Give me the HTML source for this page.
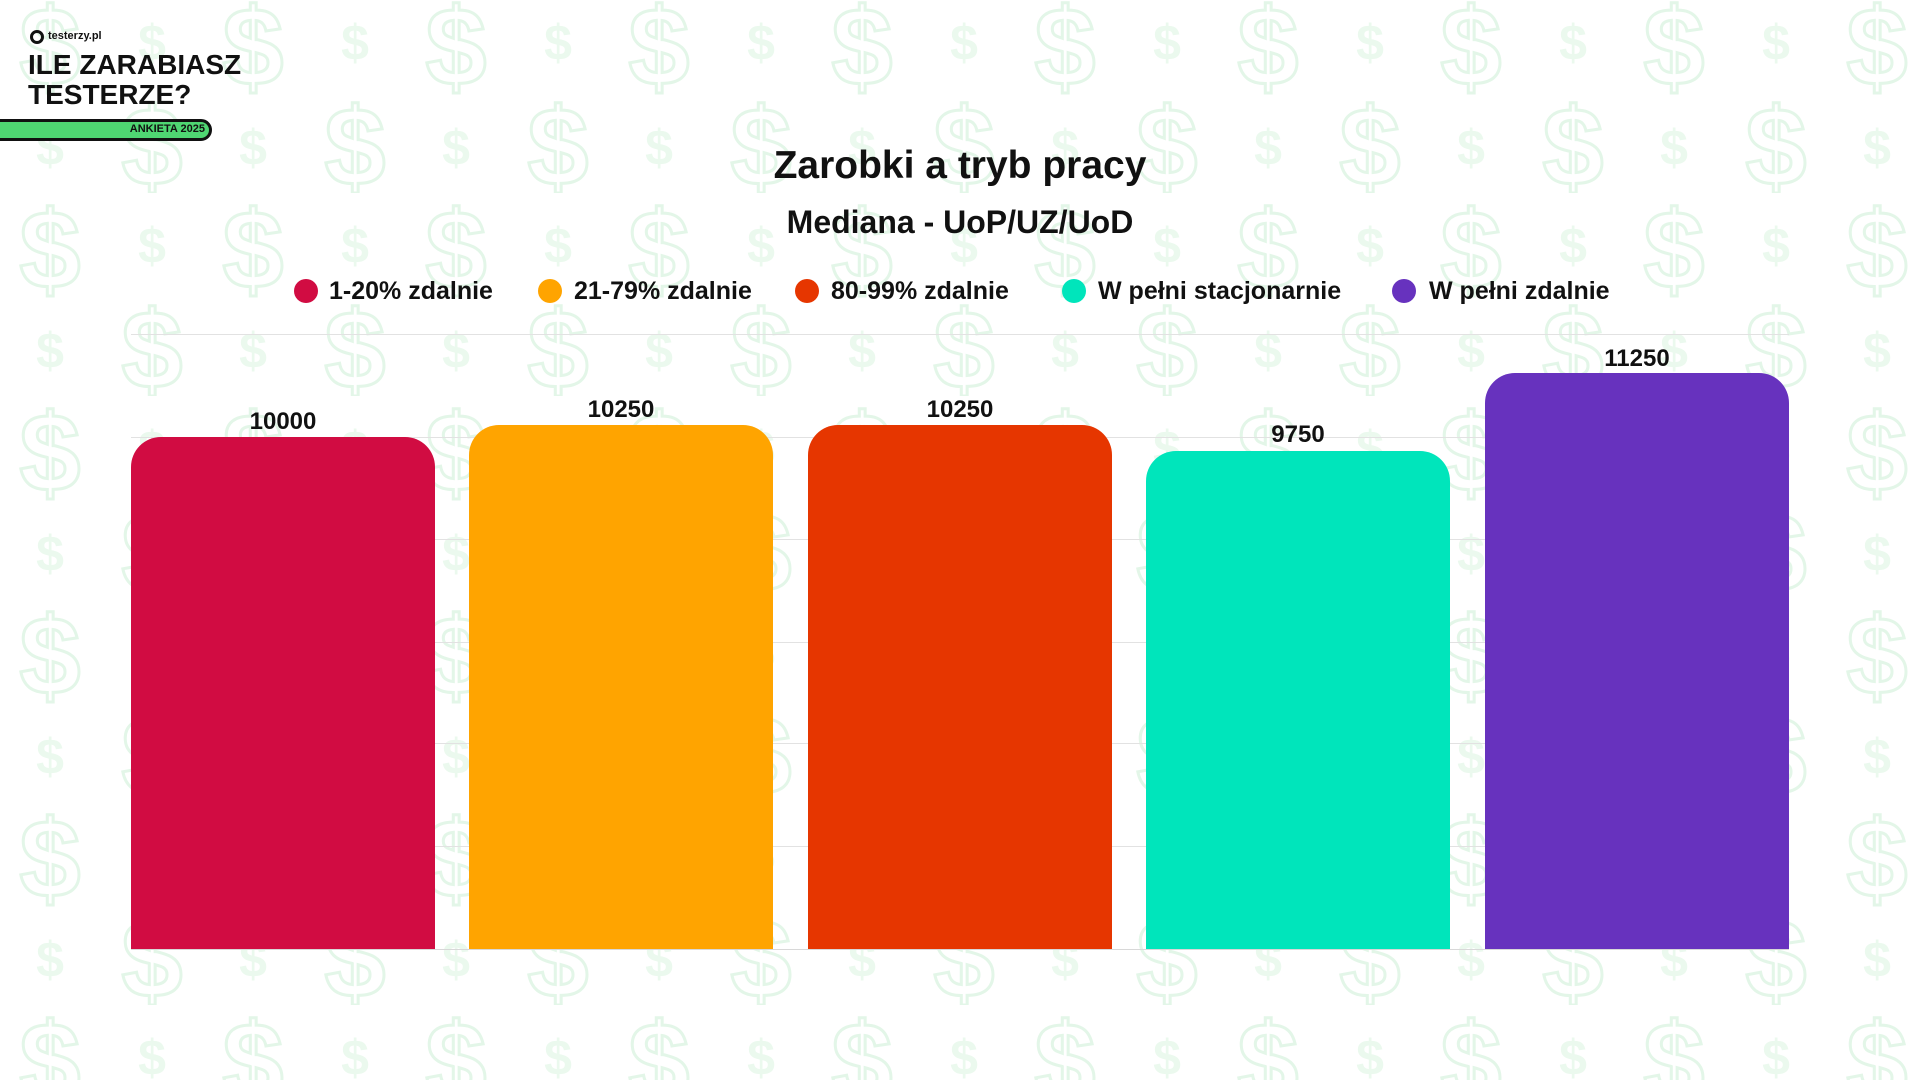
<!DOCTYPE html>
<html><head><meta charset="utf-8"><style>
html,body{margin:0;padding:0;width:1920px;height:1080px;overflow:hidden;background:#fff;font-family:"Liberation Sans",sans-serif;}
.abs{position:absolute}
.bar{position:absolute;width:304px;bottom:131px;border-radius:30px 30px 0 0}
.val{position:absolute;width:304px;text-align:center;font-weight:bold;font-size:24px;color:#111}
.grid{position:absolute;left:131px;width:1658px;height:1px;background:#e2e2e2}
.leg{position:absolute;top:277px;font-size:25px;font-weight:bold;color:#111;white-space:nowrap}
.dot{position:absolute;top:279px;width:24px;height:24px;border-radius:50%}
</style></head><body>
<svg class="abs" style="left:0;top:0" width="1920" height="1080">
<defs>
<pattern id="p" x="0" y="-10" width="203" height="203" patternUnits="userSpaceOnUse">
<text x="50" y="95" font-family="Liberation Sans" font-weight="bold" font-size="110" fill="none" stroke="#e3f6e8" stroke-width="3" text-anchor="middle">$</text>
<text x="152" y="70" font-family="Liberation Sans" font-weight="bold" font-size="50" fill="#ebf9ee" text-anchor="middle">$</text>
<text x="152" y="195" font-family="Liberation Sans" font-weight="bold" font-size="110" fill="none" stroke="#e3f6e8" stroke-width="3" text-anchor="middle">$</text>
<text x="50" y="175" font-family="Liberation Sans" font-weight="bold" font-size="50" fill="#ebf9ee" text-anchor="middle">$</text>
</pattern></defs>
<rect width="1920" height="1080" fill="url(#p)"/>
</svg>

<div class="abs" style="left:30px;top:30px;width:14px;height:14px;border:3px solid #111;border-radius:50%;box-sizing:border-box"></div>
<div class="abs" style="left:48px;top:30px;font-size:11px;font-weight:bold;color:#111">testerzy.pl</div>
<div class="abs" style="left:28px;top:50px;font-size:28px;line-height:30px;font-weight:900;color:#111">ILE ZARABIASZ<br>TESTERZE?</div>
<div class="abs" style="left:-20px;top:119px;width:232px;height:22px;background:#4fd672;border:3px solid #111;border-radius:14px;box-sizing:border-box"></div>
<div class="abs" style="left:110px;top:123px;width:95px;text-align:right;font-size:11px;font-weight:bold;color:#111">ANKIETA 2025</div>

<div class="abs" style="left:0;width:1920px;top:144px;text-align:center;font-size:39px;font-weight:bold;color:#111">Zarobki a tryb pracy</div>
<div class="abs" style="left:0;width:1920px;top:204px;text-align:center;font-size:32px;font-weight:bold;color:#111">Mediana - UoP/UZ/UoD</div>

<div class="dot" style="left:294px;background:#d10c42"></div><div class="leg" style="left:329px">1-20% zdalnie</div>
<div class="dot" style="left:538px;background:#ffa400"></div><div class="leg" style="left:574px">21-79% zdalnie</div>
<div class="dot" style="left:795px;background:#e63600"></div><div class="leg" style="left:831px">80-99% zdalnie</div>
<div class="dot" style="left:1062px;background:#00e5bb"></div><div class="leg" style="left:1098px">W pełni stacjonarnie</div>
<div class="dot" style="left:1392px;background:#6732be"></div><div class="leg" style="left:1429px">W pełni zdalnie</div>

<div class="grid" style="top:334px"></div>
<div class="grid" style="top:437px"></div>
<div class="grid" style="top:539px"></div>
<div class="grid" style="top:642px"></div>
<div class="grid" style="top:743px"></div>
<div class="grid" style="top:846px"></div>
<div class="grid" style="top:949px;background:#d8d8d8"></div>

<div class="bar" style="left:131px;top:437px;background:#d10c42"></div>
<div class="bar" style="left:469px;top:425px;background:#ffa400"></div>
<div class="bar" style="left:808px;top:425px;background:#e63600"></div>
<div class="bar" style="left:1146px;top:451px;background:#00e5bb"></div>
<div class="bar" style="left:1485px;top:373px;background:#6732be"></div>

<div class="val" style="left:131px;top:408px">10000</div>
<div class="val" style="left:469px;top:396px">10250</div>
<div class="val" style="left:808px;top:396px">10250</div>
<div class="val" style="left:1146px;top:421px">9750</div>
<div class="val" style="left:1485px;top:345px">11250</div>
</body></html>
